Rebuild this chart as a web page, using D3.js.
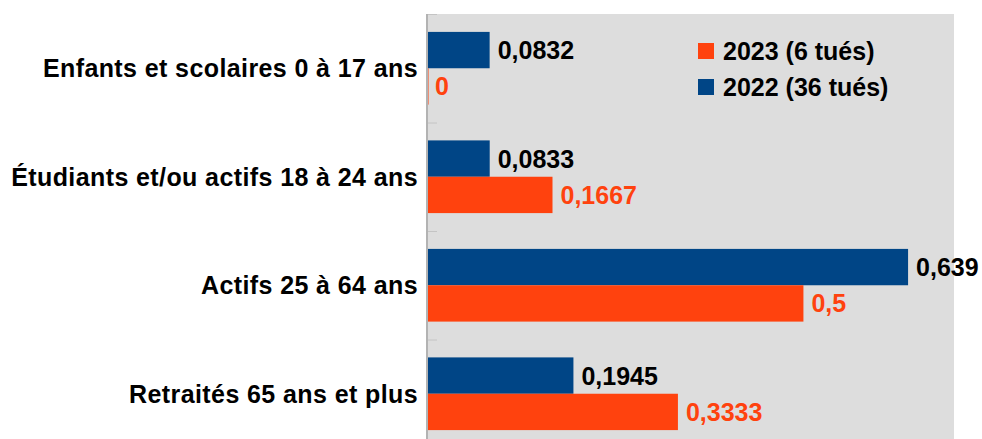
<!DOCTYPE html>
<html>
<head>
<meta charset="utf-8">
<script src="https://cdn.jsdelivr.net/npm/d3@7"></script>
<style>
  html, body { margin: 0; padding: 0; background: #fff; }
  svg { display: block; font-family: "Liberation Sans", Arial, sans-serif; font-weight: bold; }
</style>
</head>
<body>
<div id="chart"></div>
<script>
// categories, top to bottom
const categories = [
    "Enfants et scolaires 0 à 17 ans",
    "Étudiants et/ou actifs 18 à 24 ans",
    "Actifs 25 à 64 ans",
    "Retraités 65 ans et plus"
];
const values2022 = [0.0832, 0.0833, 0.639, 0.1945];
const values2023 = [0, 0.1667, 0.5, 0.3333];
const labels2022 = ["0,0832", "0,0833", "0,639", "0,1945"];
const labels2023 = ["0", "0,1667", "0,5", "0,3333"];
const seriesNames = ["2023 (6 tués)", "2022 (36 tués)"];

let width = 982,
    height = 439;

let plot = {left: 427, right: 954, top: 14, bottom: 448};

let svg = d3.select("#chart").append("svg")
    .attr("width", width)
    .attr("height", height);

let x = d3.scaleLinear()
    .domain([0, 0.7])
    .range([plot.left, plot.right]);

let y = d3.scaleBand()
    .domain(categories)
    .range([plot.top, plot.bottom])
    .paddingInner(0.33)
    .paddingOuter(0.165);

let sub = d3.scaleBand()
    .domain(["2022", "2023"])
    .range([0, y.bandwidth()]);

let color = {"2022": "#004586", "2023": "#ff420e"};

// plot background
svg.append("rect")
    .attr("x", plot.left)
    .attr("y", plot.top)
    .attr("width", plot.right - plot.left)
    .attr("height", plot.bottom - plot.top)
    .attr("fill", "#dddddd");

// small ticks at category boundaries
let step = y.step();
let boundaries = d3.range(categories.length + 1).map((i)=>plot.top + i * step);
svg.append("g")
    .selectAll("line")
    .data(boundaries)
    .enter().append("line")
    .attr("x1", plot.left)
    .attr("x2", plot.left + 10)
    .attr("y1", (d)=>d + 0.5)
    .attr("y2", (d)=>d + 0.5)
    .attr("stroke", "#c4c4c4")
    .attr("stroke-width", 1);

// rows of data
let rows = categories.map((c, i)=>({
    cat: c,
    bars: [
        {key: "2022", value: values2022[i], label: labels2022[i], text: "#000"},
        {key: "2023", value: values2023[i], label: labels2023[i], text: "#ff420e"}
    ]
}));

let group = svg.append("g")
    .selectAll("g")
    .data(rows)
    .enter().append("g")
    .attr("transform", (d)=>"translate(0," + y(d.cat) + ")");

group.selectAll("rect")
    .data((d)=>d.bars)
    .enter().append("rect")
    .attr("x", x(0))
    .attr("y", (d)=>sub(d.key))
    .attr("width", (d)=>Math.max(x(d.value) - x(0), 1.5))
    .attr("height", sub.bandwidth())
    .attr("fill", (d)=>color[d.key]);

group.selectAll("text")
    .data((d)=>d.bars)
    .enter().append("text")
    .attr("x", (d)=>x(d.value) + 8)
    .attr("y", (d)=>sub(d.key) + sub.bandwidth() / 2)
    .attr("dy", "0.36em")
    .attr("font-size", 25)
    .attr("fill", (d)=>d.text)
    .text((d)=>d.label);

// axis line
svg.append("line")
    .attr("x1", plot.left)
    .attr("x2", plot.left)
    .attr("y1", plot.top)
    .attr("y2", plot.bottom)
    .attr("stroke", "#b3b3b3")
    .attr("stroke-width", 2);

// category labels
svg.append("g")
    .selectAll("text")
    .data(categories)
    .enter().append("text")
    .attr("x", 418)
    .attr("y", (d)=>y(d) + y.bandwidth() / 2)
    .attr("dy", "0.36em")
    .attr("text-anchor", "end")
    .attr("font-size", 25)
    .attr("letter-spacing", 0.4)
    .attr("fill", "#000")
    .text((d)=>d);

// legend
let legend = svg.append("g")
    .selectAll("g")
    .data(seriesNames)
    .enter().append("g")
    .attr("transform", (d, i)=>"translate(698," + (43 + i * 36) + ")");

legend.append("rect")
    .attr("width", 16)
    .attr("height", 16)
    .attr("fill", (d, i)=>i === 0 ? color["2023"] : color["2022"]);

legend.append("text")
    .attr("x", 25)
    .attr("y", 8)
    .attr("dy", "0.36em")
    .attr("font-size", 25)
    .attr("fill", "#000")
    .text((d)=>d);
</script>
</body>
</html>
